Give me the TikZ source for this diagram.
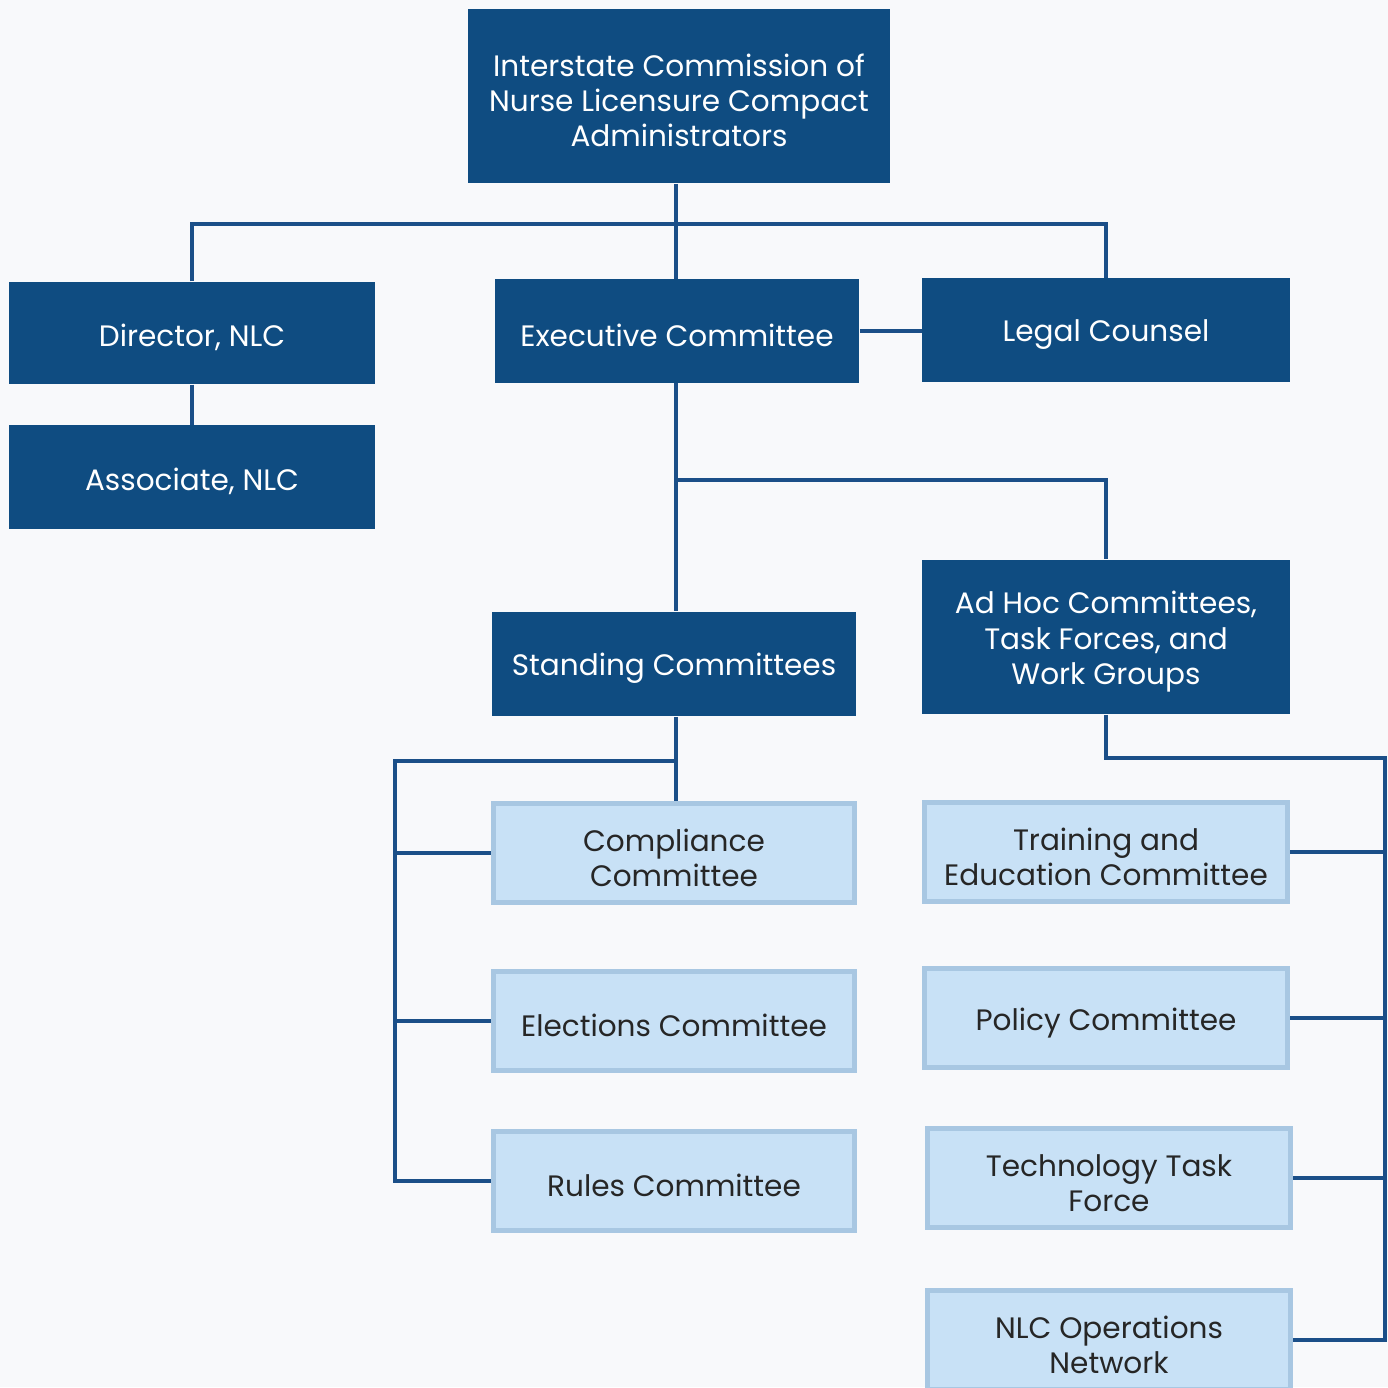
\documentclass[tikz,border=0pt]{standalone}
\usepackage{fontspec}
\setmainfont{Poppins}
\usepackage{tikz}
\usetikzlibrary{positioning}
\definecolor{nlcdark}{HTML}{0F4C81}
\definecolor{nlclight}{HTML}{C8E1F6}
\definecolor{nlcedge}{HTML}{A8C7E2}
\definecolor{nlcline}{HTML}{1B4F88}
\definecolor{nlcpaper}{HTML}{F8F9FB}
\tikzset
{
    boxtext/.style   = {align=center, font=\fontsize{8.4}{10}\selectfont, inner sep=0pt, execute at begin node=\rule{0pt}{9pt}},
    twolines/.style  = {text height=19pt},
    threelines/.style= {text height=29pt},
    darknode/.style  = {rectangle, boxtext, fill=nlcdark, text=white},
    lightnode/.style = {rectangle, boxtext, fill=nlclight, draw=nlcedge, line width=1.4pt, text=black!85},
    link/.style      = {draw=nlcline, line width=1.15pt}
}

\begin{document}
\begin{tikzpicture}[x=0.01cm, y=-0.01cm]
    \fill [nlcpaper] (0,0) rectangle (1388,1387);
    \useasboundingbox (0,0) rectangle (1388,1387);

    % top level
    \node [darknode, threelines, minimum width=4.22cm, minimum height=1.74cm] (icnlca) at (679,96) {Interstate Commission of \\ Nurse Licensure Compact \\ Administrators};
    \node [darknode, minimum width=3.66cm, minimum height=1.02cm] (director) at (192,333) {Director, NLC};
    \node [darknode, minimum width=3.66cm, minimum height=1.03cm] (associate) at (192,477) {Associate, NLC};
    \node [darknode, minimum width=3.64cm, minimum height=1.03cm] (executive) at (677,331) {Executive Committee};
    \node [darknode, minimum width=3.67cm, minimum height=1.03cm] (legal) at (1106,330) {Legal Counsel};
    \node [darknode, minimum width=3.64cm, minimum height=1.04cm] (standing) at (674,664) {Standing Committees};
    \node [darknode, threelines, minimum width=3.67cm, minimum height=1.54cm] (adhoc) at (1106,637) {Ad Hoc Committees, \\ Task Forces, and \\ Work Groups};

    % standing committees
    \node [lightnode, twolines, minimum width=3.60cm, minimum height=0.99cm] (compliance) at (674,853) {Compliance \\ Committee};
    \node [lightnode, minimum width=3.60cm, minimum height=0.99cm] (elections) at (674,1021) {Elections Committee};
    \node [lightnode, minimum width=3.60cm, minimum height=0.99cm] (rules) at (674,1181) {Rules Committee};

    % ad hoc groups
    \node [lightnode, twolines, minimum width=3.63cm, minimum height=0.99cm] (training) at (1106,852) {Training and \\ Education Committee};
    \node [lightnode, minimum width=3.63cm, minimum height=0.99cm] (policy) at (1106,1018) {Policy Committee};
    \node [lightnode, twolines, minimum width=3.63cm, minimum height=0.99cm] (technology) at (1109,1178) {Technology Task \\ Force};
    \node [lightnode, twolines, minimum width=3.63cm, minimum height=0.99cm] (operations) at (1109,1340) {NLC Operations \\ Network};

    % connectors
    \coordinate (topbar) at (676,224);
    \draw [link] (icnlca.south -| topbar) -- (executive.north -| topbar);
    \draw [link] (director.north) |- (topbar) -| (legal.north);
    \draw [link] (director) -- (associate);
    \draw [link] (executive.east) -- (executive.east -| legal.west);
    \draw [link] (executive.south -| topbar) -- (standing.north -| topbar);
    \draw [link] (676,480) -| (adhoc.north);

    \coordinate (leftbus) at (395,761);
    \draw [link] (standing.south -| topbar) -- (compliance.north -| topbar);
    \draw [link] (676,761) -- (leftbus) |- (rules.west);
    \draw [link] (leftbus |- compliance.west) -- (compliance.west);
    \draw [link] (leftbus |- elections.west) -- (elections.west);

    \coordinate (rightbus) at (1385,758);
    \draw [link] (adhoc.south) |- (rightbus) |- (operations.east);
    \draw [link] (rightbus |- training.east) -- (training.east);
    \draw [link] (rightbus |- policy.east) -- (policy.east);
    \draw [link] (rightbus |- technology.east) -- (technology.east);
\end{tikzpicture}
\end{document}
